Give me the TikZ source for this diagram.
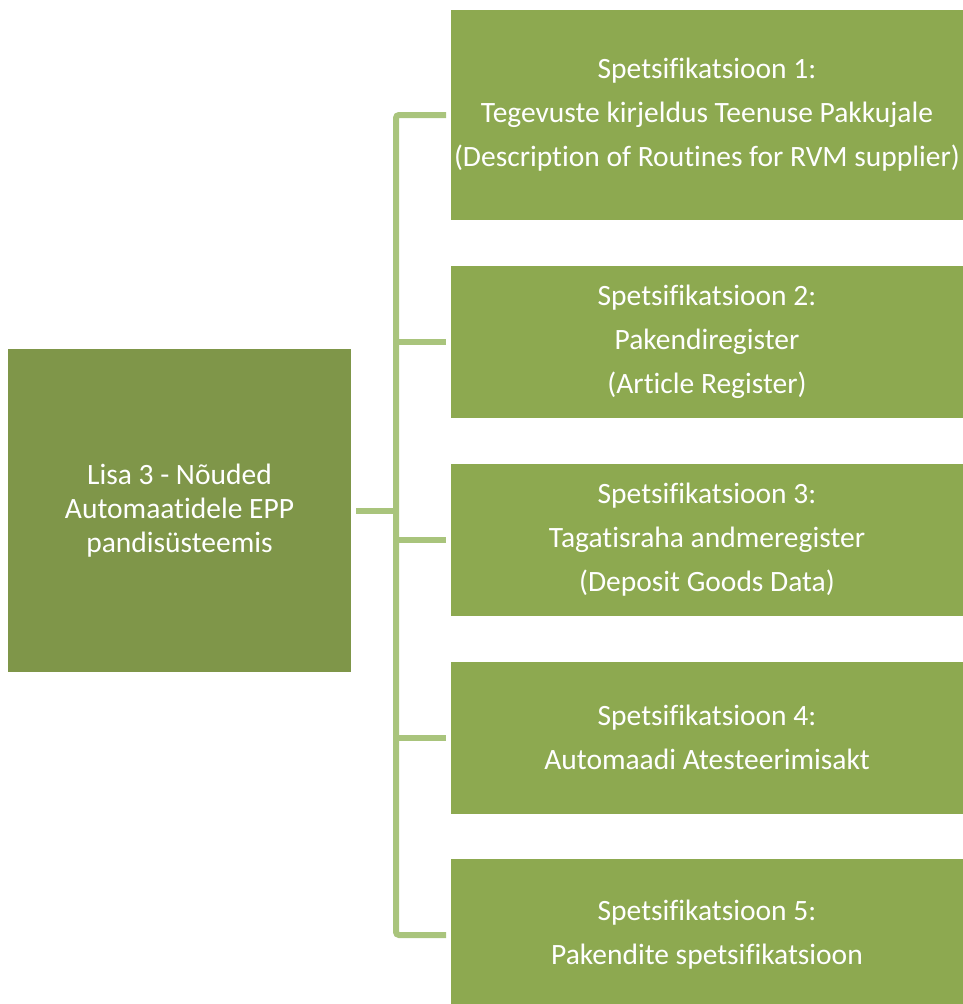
\documentclass[tikz,border=0pt]{standalone}
\usepackage{fontspec}
\setmainfont{Carlito}[Ligatures=NoCommon]
\usepackage{tikz}

\definecolor{lisagreen}{HTML}{7F9649}
\definecolor{specgreen}{HTML}{8DA950}
\definecolor{linegreen}{HTML}{A9C47C}

\tikzset{
  specbox/.style={fill=specgreen, text=white, align=center, inner sep=0pt,
    outer sep=5pt, minimum width=512pt, minimum height=152pt,
    font=\fontsize{29.5}{44}\selectfont},
  lisabox/.style={fill=lisagreen, text=white, align=center, inner sep=0pt,
    outer sep=5pt, minimum width=343pt, minimum height=323pt,
    font=\fontsize{29.5}{34}\selectfont},
  branch/.style={linegreen, line width=6pt}
}

\begin{document}
\begin{tikzpicture}[x=1pt, y=-1pt]
      \useasboundingbox (0,0) rectangle (963,1004);
      \clip (0,0) rectangle (963,1004);
      \node[lisabox] (lisa) at (179.5,510.5) {Lisa 3 - Nõuded\\Automaatidele EPP\\pandisüsteemis};
      \node[specbox, minimum height=210pt] (spec1) at (707,115) {Spetsifikatsioon 1:\\Tegevuste kirjeldus Teenuse Pakkujale\\(Description of Routines for RVM supplier)};
      \node[specbox] (spec2) at (707,342) {Spetsifikatsioon 2:\\Pakendiregister\\(Article Register)};
      \node[specbox] (spec3) at (707,539.5) {Spetsifikatsioon 3:\\Tagatisraha andmeregister\\(Deposit Goods Data)};
      \node[specbox] (spec4) at (707,737.5) {Spetsifikatsioon 4:\\Automaadi Atesteerimisakt};
      \node[specbox] (spec5) at (707,935) {Spetsifikatsioon 5:\\Pakendite spetsifikatsioon};
      \coordinate (hub) at (396,510.5);
      \draw[branch] (lisa.east) -- (hub);
      \draw[branch, rounded corners=3pt] (spec1.west) -| (hub) |- (spec5.west);
      \foreach \i in {2,3,4}
        \draw[branch] (spec\i.west) -- (spec\i.west -| hub);
    \end{tikzpicture}
\end{document}
